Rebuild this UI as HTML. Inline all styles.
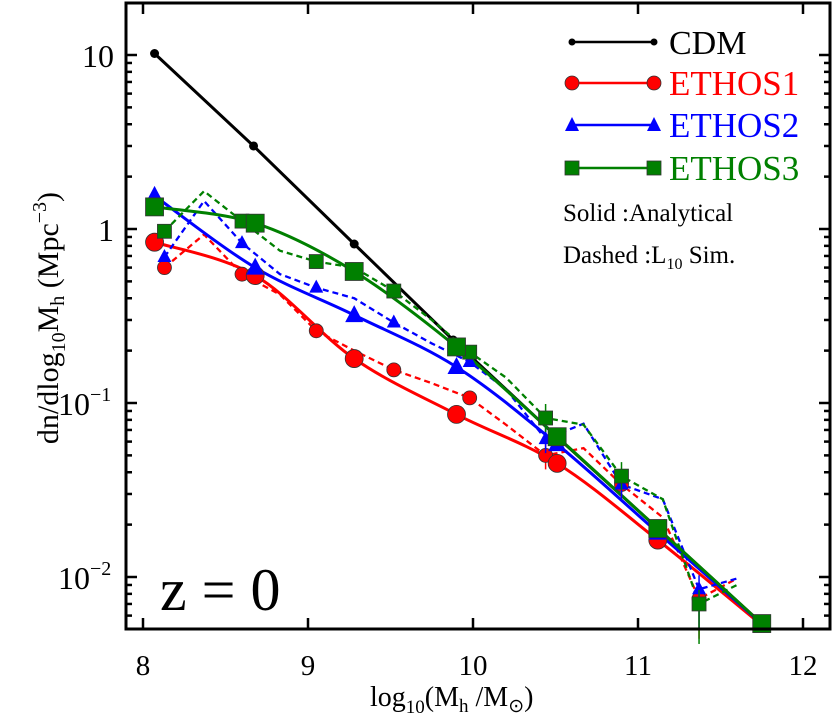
<!DOCTYPE html>
<html><head><meta charset="utf-8"><style>
html,body{margin:0;padding:0;background:#fff;}
svg{display:block;font-family:"Liberation Serif",serif;}
</style></head><body>
<svg id="chart" width="838" height="722" viewBox="0 0 838 722" xmlns="http://www.w3.org/2000/svg">
<g id="lines"></g>
<g id="axes"></g>
<g id="legend">
  <line x1="572" y1="42" x2="654" y2="42" stroke="#000" stroke-width="2.5"/>
  <circle cx="572" cy="42" r="3.5" fill="#000"/><circle cx="654" cy="42" r="3.5" fill="#000"/>
  <text x="669" y="54" font-size="34" fill="#000">CDM</text>
  <line x1="572" y1="83" x2="654" y2="83" stroke="#f00" stroke-width="2.5"/>
  <circle cx="572" cy="83" r="7" fill="#f00" stroke="#333" stroke-width="0.8"/><circle cx="654" cy="83" r="7" fill="#f00" stroke="#333" stroke-width="0.8"/>
  <text x="669" y="95" font-size="35" fill="#f00">ETHOS1</text>
  <line x1="572" y1="125" x2="654" y2="125" stroke="#00f" stroke-width="2.5"/>
  <polygon points="572,117 565,131 579,131" fill="#00f"/><polygon points="654,117 647,131 661,131" fill="#00f"/>
  <text x="669" y="137" font-size="35" fill="#00f">ETHOS2</text>
  <line x1="572" y1="168" x2="654" y2="168" stroke="#008000" stroke-width="2.5"/>
  <rect x="565" y="161" width="14" height="14" fill="#008000" stroke="#333" stroke-width="0.8"/><rect x="647" y="161" width="14" height="14" fill="#008000" stroke="#333" stroke-width="0.8"/>
  <text x="669" y="180" font-size="35" fill="#008000">ETHOS3</text>
  <text x="563" y="221" font-size="25">Solid :Analytical</text>
  <text x="563" y="263" font-size="25">Dashed :L<tspan font-size="16" dy="6">10</tspan><tspan dy="-6"> Sim.</tspan></text>
</g>
<text x="160" y="610" font-size="60">z = 0</text>
<text x="370" y="706" font-size="28">log<tspan font-size="19" dy="7">10</tspan><tspan dy="-7">(M</tspan><tspan font-size="19" dy="6">h</tspan><tspan dy="-6"> /M</tspan><tspan font-size="19" dy="6">⊙</tspan><tspan dy="-6">)</tspan></text>
<text transform="translate(58,318) rotate(-90)" font-size="30" text-anchor="middle">dn/dlog<tspan font-size="20" dy="7">10</tspan><tspan dy="-7">M</tspan><tspan font-size="20" dy="6">h</tspan><tspan dy="-6">  (Mpc</tspan><tspan font-size="20" dy="-12">−3</tspan><tspan dy="12">)</tspan></text>
</svg>
<script>
const cdmX=[8.07,8.67,9.28,9.88,10.5,11.12,11.75];
const cdmY=[10.2,3.0,0.82,0.23,0.065,0.019,0.0054];
const anaX=[8.07,8.68,9.28,9.9,10.51,11.12,11.75];
const e1Ana=[0.84,0.54,0.18,0.086,0.045,0.0163,0.0053];
const e2Ana=[1.55,0.6,0.32,0.161,0.058,0.018,0.0054];
const e3Ana=[1.34,1.08,0.57,0.21,0.064,0.019,0.0054];
const simX=[8.13,8.37,8.6,8.83,9.05,9.28,9.52,9.75,9.98,10.2,10.44,10.67,10.9,11.15,11.37,11.6];
const e1Sim=[0.6,0.93,0.55,0.42,0.26,0.2,0.155,0.13,0.107,0.075,0.05,0.055,0.034,0.022,0.0075,0.0098];
const e2Sim=[0.69,1.45,0.83,0.55,0.46,0.4,0.29,0.22,0.172,0.12,0.062,0.076,0.034,0.028,0.0085,0.0098];
const e3Sim=[0.97,1.65,1.11,0.75,0.65,0.6,0.44,0.3,0.196,0.14,0.082,0.075,0.038,0.028,0.007,0.009];
const simMarkIdx=[0,2,4,6,8,10,12,14];
const xTicks=[8,9,10,11,12];
const yTicks=[10,1,0.1,0.01];
const yTickLabels=["10","1","10−1","10−2"];

const L=126,R=830,T=3,B=629;
const sx=v=>143+(v-8)*165;
const sy=v=>55+(1-Math.log10(v))*174;
const NS="http://www.w3.org/2000/svg";
const gl=document.getElementById('lines'), ga=document.getElementById('axes');
function mk(tag,attrs,parent){const e=document.createElementNS(NS,tag);for(const k in attrs)e.setAttribute(k,attrs[k]);parent.appendChild(e);return e;}
function smooth(pts){let d=`M${pts[0][0]},${pts[0][1]}`;for(let i=0;i<pts.length-1;i++){const p0=pts[Math.max(0,i-1)],p1=pts[i],p2=pts[i+1],p3=pts[Math.min(pts.length-1,i+2)];
d+=` C${p1[0]+(p2[0]-p0[0])/6},${p1[1]+(p2[1]-p0[1])/6} ${p2[0]-(p3[0]-p1[0])/6},${p2[1]-(p3[1]-p1[1])/6} ${p2[0]},${p2[1]}`;}return d;}
function poly(xs,ys){return xs.map((x,i)=>`${i?'L':'M'}${sx(x)},${sy(ys[i])}`).join(' ');}
function marker(kind,x,y,col,parent,r){
  let e;
  if(kind==='c'){e=mk('circle',{cx:x,cy:y,r:r,fill:col,stroke:'#333','stroke-width':0.8},parent);}
  else if(kind==='t'){e=mk('polygon',{points:`${x},${y-r-1} ${x-r},${y+r-2} ${x+r},${y+r-2}`,fill:col},parent);}
  else {e=mk('rect',{x:x-r+1,y:y-r+1,width:2*r-2,height:2*r-2,fill:col,stroke:'#333','stroke-width':0.8},parent);}
  return e;
}
const series=[
 {name:'ethos1',col:'#f00',kind:'c',ana:e1Ana,sim:e1Sim,r:8},
 {name:'ethos2',col:'#00f',kind:'t',ana:e2Ana,sim:e2Sim,r:8},
 {name:'ethos3',col:'#008000',kind:'s',ana:e3Ana,sim:e3Sim,r:9}
];
const cl=mk('path',{d:poly(cdmX,cdmY),fill:'none',stroke:'#000','stroke-width':3},gl);


cdmX.slice(0,4).forEach((x,i)=>{const c=mk('circle',{cx:sx(x),cy:sy(cdmY[i]),r:4.5,fill:'#000'},gl);

});
series.forEach(s=>{
  const dl=mk('path',{d:poly(simX,s.sim),fill:'none',stroke:s.col,'stroke-width':2.3,'stroke-dasharray':'6,4'},gl);
  
  
  const sl=mk('path',{d:smooth(anaX.map((x,i)=>[sx(x),sy(s.ana[i])])),fill:'none',stroke:s.col,'stroke-width':3},gl);
  
  
});
series.forEach(s=>{
  simMarkIdx.forEach(i=>{const y=sy(s.sim[i]);
    const eb=mk('line',{x1:sx(simX[i]),x2:sx(simX[i]),y1:y-(i>=10?14:4),y2:y+(i>=10?(i==14?40:14):4),stroke:s.col,'stroke-width':1.5},gl);
    
    
    const m=marker(s.kind,sx(simX[i]),y,s.col,gl,s.r-1);
    
    });
  anaX.slice(0,6).forEach((x,i)=>{const m=marker(s.kind,sx(x),sy(s.ana[i]),s.col,gl,s.r+1);
    
    });
});
marker('s',sx(11.75),sy(0.0054),'#008000',gl,10);
const fr=mk('rect',{x:L,y:T,width:R-L,height:B-T,fill:'none',stroke:'#000','stroke-width':3},ga);


xTicks.forEach(v=>{const x=sx(v);
  mk('line',{x1:x,x2:x,y1:B,y2:B-11,stroke:'#000','stroke-width':2.5},ga);
  mk('line',{x1:x,x2:x,y1:T,y2:T+11,stroke:'#000','stroke-width':2.5},ga);
  const t=mk('text',{x:x,y:675,'font-size':29,'text-anchor':'middle'},ga);t.textContent=v;
  
  
});
for(let e=-3;e<=1;e++){for(let m=1;m<10;m++){const v=m*Math.pow(10,e);const y=sy(v);if(y<T+2||y>B-2)continue;
  const len=m===1?11:6;
  mk('line',{x1:L,x2:L+len,y1:y,y2:y,stroke:'#000','stroke-width':2.5},ga);
  mk('line',{x1:R,x2:R-len,y1:y,y2:y,stroke:'#000','stroke-width':2.5},ga);}}
yTicks.forEach((v,i)=>{const y=sy(v);const lab=yTickLabels[i];
  const t=mk('text',{x:114,y:y+12,'font-size':32,'text-anchor':'end'},ga);
  
  
  if(lab.includes('−')){const p=lab.split('−');t.textContent=p[0];
    const s=mk('tspan',{'font-size':20,dy:-14},t);s.textContent='−'+p[1];t.setAttribute('text-anchor','start');t.setAttribute('x',58);}
  else t.textContent=lab;
});
</script>
</body></html>
